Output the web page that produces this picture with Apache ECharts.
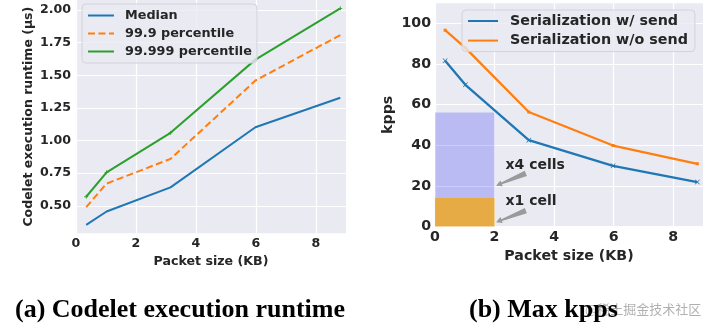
<!DOCTYPE html>
<html><head><meta charset="utf-8">
<script src="https://cdn.jsdelivr.net/npm/echarts@6/dist/echarts.min.js"></script>
<style>html,body{margin:0;padding:0;background:#fff}#c{width:709px;height:323px}</style>
</head><body><div id="c"></div>
<script>
// ---- data: (a) Codelet execution runtime ----
const packetSizes = [0.34, 1.02, 3.15, 5.98, 8.81];
const median = [0.354, 0.456, 0.641, 1.102, 1.328];
const p999 = [0.49, 0.67, 0.859, 1.46, 1.808];
const p99999 = [0.569, 0.756, 1.059, 1.62, 2.013];
const yTicksA = [0.5, 0.75, 1.0, 1.25, 1.5, 1.75, 2.0];
const namesA = ['Median', '99.9 percentile', '99.999 percentile'];

// ---- data: (b) Max kpps ----
const withSend = [81.7, 69.8, 42.5, 29.9, 21.9];
const withoutSend = [96.7, 88.0, 56.4, 39.9, 30.9];
const yTicksB = [0, 20, 40, 60, 80, 100];
const namesB = ['Serialization w/ send', 'Serialization w/o send'];
const xTicks = [0, 2, 4, 6, 8];
const cellSpan = [0, 2];
const x1CellTop = 14.1;
const x4CellTop = 56.1;
const annoLabels = ['x4 cells', 'x1 cell'];
const annoTextX = [2.37, 2.37];
const annoTextY = [30.0, 12.2];
const arrowFromX = [3.05, 3.05];
const arrowFromY = [26.2, 7.8];
const arrowToX = [2.05, 2.05];
const arrowToY = [20.1, 2.1];

const captions = ['(a) Codelet execution runtime', '(b) Max kpps'];
const watermark = '@稀土掘金技术社区';

const FONT = 'DejaVu Sans';
const TXT = '#262626';
const BG = '#eaeaf2';
const C_BLUE = '#1f77b4', C_ORANGE = '#ff7f0e', C_GREEN = '#2ca02c';
const PLUS = 'path://M4,0H6V4H10V6H6V10H4V6H0V4H4Z';
const XMARK = 'path://M0,1L1,0L5,4L9,0L10,1L6,5L10,9L9,10L5,6L1,10L0,9L4,5Z';

const pairs = (xs, ys) => xs.map((x, i) => [x, ys[i]]);

function xAxisCfg(gi, fs, gap) {
  return {
    gridIndex: gi, type: 'value', min: 0, max: 9,
    name: 'Packet size (KB)', nameLocation: 'middle', nameGap: gap,
    nameTextStyle: { fontFamily: FONT, fontWeight: 'bold', fontSize: fs, color: TXT },
    axisLine: { show: false },
    axisTick: { show: false, customValues: xTicks },
    axisLabel: { customValues: xTicks, fontFamily: FONT, fontWeight: 'bold', fontSize: fs, color: TXT, margin: 4 },
    splitLine: { show: true, lineStyle: { color: '#ffffff', width: 1.2 } }
  };
}

const option = {
  animation: false,
  backgroundColor: '#ffffff',
  title: [
    { text: watermark, left: 585, top: 303, padding: 0, z: 1,
      textStyle: { fontFamily: 'Noto Sans CJK SC', fontWeight: 'normal', fontSize: 13, color: 'rgba(150,150,150,0.75)' } },
    { text: captions[0], left: 15, top: 297, padding: 0, z: 6,
      textStyle: { fontFamily: 'Liberation Serif', fontWeight: 'bold', fontSize: 26, color: '#000' } },
    { text: captions[1], left: 469, top: 297, padding: 0, z: 6,
      textStyle: { fontFamily: 'Liberation Serif', fontWeight: 'bold', fontSize: 26, color: '#000' } }
  ],
  grid: [
    { left: 76, right: 363, top: 0, bottom: 89.7, show: true, backgroundColor: BG, borderWidth: 0 },
    { left: 435, right: 6, top: 3.2, bottom: 96.5, show: true, backgroundColor: BG, borderWidth: 0 }
  ],
  legend: [
    { data: namesA, orient: 'vertical', left: 82, top: 4, padding: [5, 5, 5, 5],
      itemWidth: 26, itemHeight: 14, itemGap: 5,
      itemStyle: { opacity: 0 },
      backgroundColor: 'rgba(234,234,242,0.8)', borderColor: '#d2d2da', borderWidth: 1, borderRadius: 4,
      textStyle: { fontFamily: FONT, fontWeight: 'bold', fontSize: 12.8, color: TXT, padding: [0, 0, 0, 6] } },
    { data: namesB, orient: 'vertical', left: 462, top: 10, padding: [4, 7, 4, 5],
      itemWidth: 30, itemHeight: 16, itemGap: 5.6,
      itemStyle: { opacity: 0 },
      backgroundColor: 'rgba(234,234,242,0.8)', borderColor: '#d2d2da', borderWidth: 1, borderRadius: 4,
      textStyle: { fontFamily: FONT, fontWeight: 'bold', fontSize: 14.3, color: TXT, padding: [0, 0, 0, 7] } }
  ],
  xAxis: [xAxisCfg(0, 12.6, 14), xAxisCfg(1, 14.2, 19)],
  yAxis: [
    { gridIndex: 0, type: 'value', min: 0.289, max: 2.077,
      name: 'Codelet execution runtime (μs)', nameLocation: 'middle', nameGap: 41,
      nameTextStyle: { fontFamily: FONT, fontWeight: 'bold', fontSize: 12.5, color: TXT },
      axisLine: { show: false },
      axisTick: { show: false, customValues: yTicksA },
      axisLabel: { customValues: yTicksA, formatter: v => v.toFixed(2), fontFamily: FONT, fontWeight: 'bold', fontSize: 12.6, color: TXT, margin: 5 },
      splitLine: { show: true, lineStyle: { color: '#ffffff', width: 1.2 } } },
    { gridIndex: 1, type: 'value', min: 0, max: 110,
      name: 'kpps', nameLocation: 'middle', nameGap: 40,
      nameTextStyle: { fontFamily: FONT, fontWeight: 'bold', fontSize: 14.2, color: TXT },
      axisLine: { show: false },
      axisTick: { show: false, customValues: yTicksB },
      axisLabel: { customValues: yTicksB, fontFamily: FONT, fontWeight: 'bold', fontSize: 14.2, color: TXT, margin: 4 },
      splitLine: { show: true, lineStyle: { color: '#ffffff', width: 1.2 } } }
  ],
  series: [
    { name: namesA[0], type: 'line', xAxisIndex: 0, yAxisIndex: 0, data: pairs(packetSizes, median),
      symbol: 'none', color: C_BLUE, lineStyle: { width: 2, color: C_BLUE } },
    { name: namesA[1], type: 'line', xAxisIndex: 0, yAxisIndex: 0, data: pairs(packetSizes, p999),
      symbol: 'none', color: C_ORANGE, lineStyle: { width: 2, color: C_ORANGE, type: [7, 3.5] } },
    { name: namesA[2], type: 'line', xAxisIndex: 0, yAxisIndex: 0, data: pairs(packetSizes, p99999),
      symbol: PLUS, symbolSize: 4, color: C_GREEN, itemStyle: { color: C_GREEN }, lineStyle: { width: 2, color: C_GREEN } },
    { name: namesB[0], type: 'line', xAxisIndex: 1, yAxisIndex: 1, data: pairs(packetSizes, withSend),
      symbol: XMARK, symbolSize: 5, color: C_BLUE, itemStyle: { color: C_BLUE }, lineStyle: { width: 2.3, color: C_BLUE }, z: 3,
      markArea: { silent: true, data: [
        [{ xAxis: cellSpan[0], yAxis: x1CellTop, itemStyle: { color: 'rgba(0,0,255,0.2)' } }, { xAxis: cellSpan[1], yAxis: x4CellTop }],
        [{ xAxis: cellSpan[0], yAxis: 0, itemStyle: { color: 'rgba(230,160,40,0.85)' } }, { xAxis: cellSpan[1], yAxis: x1CellTop }]
      ] } },
    { name: namesB[1], type: 'line', xAxisIndex: 1, yAxisIndex: 1, data: pairs(packetSizes, withoutSend),
      symbol: 'rect', symbolSize: 3, color: C_ORANGE, itemStyle: { color: C_ORANGE }, lineStyle: { width: 2.3, color: C_ORANGE }, z: 3 },
    { type: 'custom', xAxisIndex: 1, yAxisIndex: 1, silent: true, z: 4,
      data: arrowFromX.map((x, i) => [x, arrowFromY[i], arrowToX[i], arrowToY[i]]),
      renderItem: (p, api) => {
        const a = api.coord([api.value(0), api.value(1)]);
        const b = api.coord([api.value(2), api.value(3)]);
        const dx = b[0] - a[0], dy = b[1] - a[1], L = Math.hypot(dx, dy);
        const ux = dx / L, uy = dy / L, nx = -uy, ny = ux;
        const tw = 2.8, sw = 0.9, hl = 6, hw = 3.2;
        const hb = [b[0] - ux * hl, b[1] - uy * hl];
        const pts = [
          [a[0] + nx * tw, a[1] + ny * tw],
          [hb[0] + nx * sw, hb[1] + ny * sw],
          [hb[0] + nx * hw, hb[1] + ny * hw],
          [b[0], b[1]],
          [hb[0] - nx * hw, hb[1] - ny * hw],
          [hb[0] - nx * sw, hb[1] - ny * sw],
          [a[0] - nx * tw, a[1] - ny * tw]
        ];
        return { type: 'polygon', shape: { points: pts }, style: { fill: '#9a9a9a' } };
      } },
    { type: 'custom', xAxisIndex: 1, yAxisIndex: 1, silent: true, z: 4,
      data: annoTextX.map((x, i) => [x, annoTextY[i]]),
      renderItem: (p, api) => {
        const c = api.coord([api.value(0), api.value(1)]);
        return { type: 'text', x: c[0], y: c[1],
          style: { text: annoLabels[p.dataIndex], fill: TXT, font: 'bold 14px "DejaVu Sans"', align: 'left', verticalAlign: 'middle' } };
      } }
  ]
};

const chart = echarts.init(document.getElementById('c'), null, { renderer: 'canvas' });
chart.setOption(option);
</script>
</body></html>
